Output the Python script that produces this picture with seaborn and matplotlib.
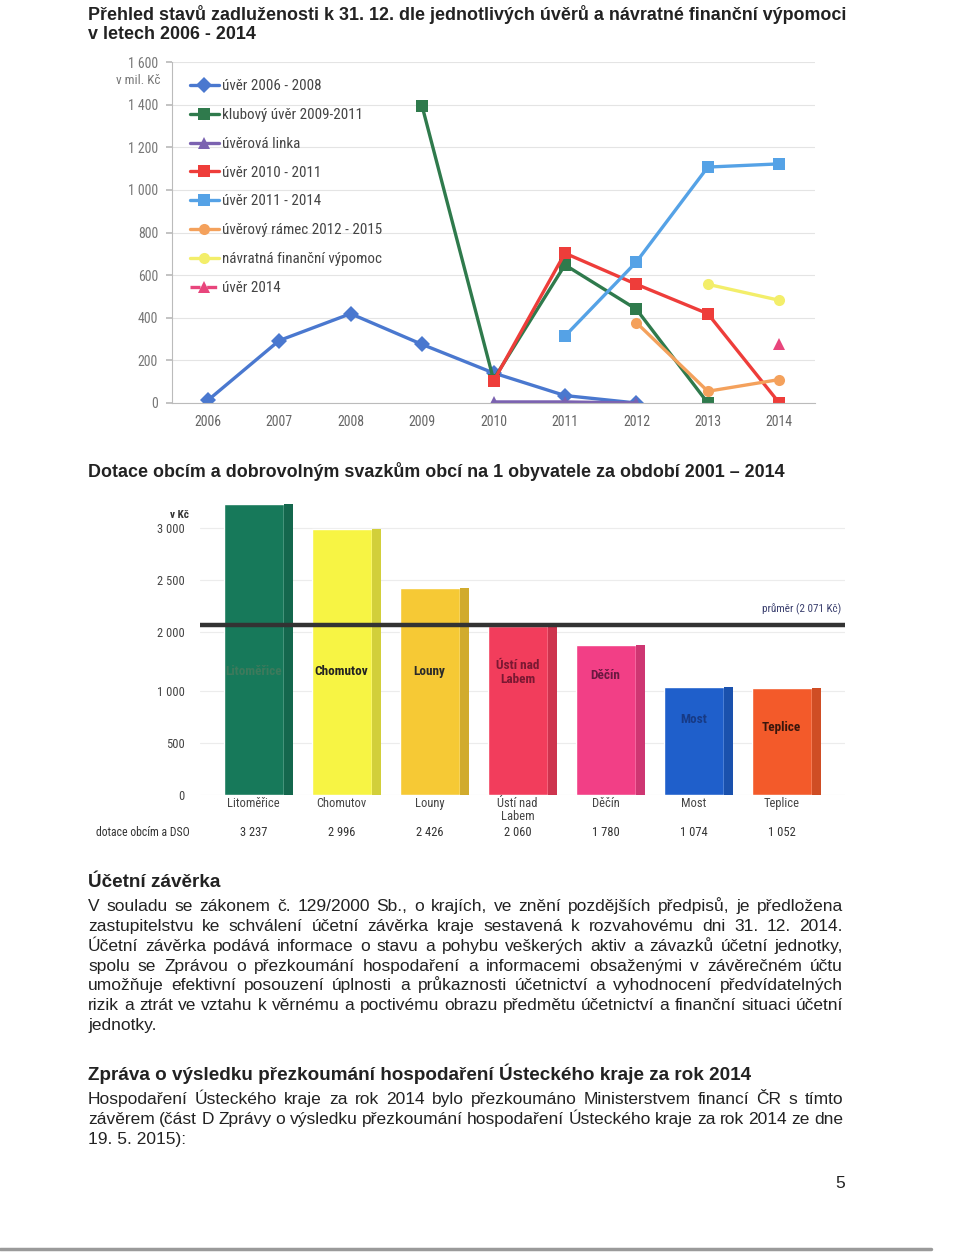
import os
import numpy as np
import pandas as pd
import matplotlib
matplotlib.use("Agg")
import matplotlib.pyplot as plt
import seaborn as sns
from matplotlib import font_manager
from matplotlib.ticker import FuncFormatter, FixedLocator
from matplotlib.patches import Rectangle
from matplotlib.lines import Line2D
from matplotlib.transforms import blended_transform_factory

# --- data: graf zadluzenosti (mil. Kc) ---
years = [2006, 2007, 2008, 2009, 2010, 2011, 2012, 2013, 2014]
uver_2006_2008 = [12, 293, 419, 275, 141, 35, 0, None, None]
klubovy_uver = [None, None, None, 1394, 110, 648, 440, 0, None]
uverova_linka = [None, None, None, None, 5, 5, 0, None, None]
uver_2010_2011 = [None, None, None, None, 102, 703, 557, 419, 0]
uver_2011_2014 = [None, None, None, None, None, 314, 662, 1107, 1122]
uverovy_ramec = [None, None, None, None, None, None, 377, 55, 110]
navratna_vypomoc = [None, None, None, None, None, None, None, 557, 482]
uver_2014 = [None, None, None, None, None, None, None, None, 275]
series_names = ["úvěr 2006 - 2008", "klubový úvěr 2009-2011", "úvěrová linka",
                "úvěr 2010 - 2011", "úvěr 2011 - 2014", "úvěrový rámec 2012 - 2015",
                "návratná finanční výpomoc", "úvěr 2014"]
line_colors = ["#4a78cf", "#2f7a4c", "#7b62b0", "#ee3d3a", "#55a2e6",
               "#f4a15c", "#f3ee6a", "#e8457c"]
line_markers = ["D", "s", "^", "s", "s", "o", "o", "^"]

# --- data: dotace na obyvatele (Kc) ---
okresy = ["Litoměřice", "Chomutov", "Louny", "Ústí nad\nLabem", "Děčín", "Most", "Teplice"]
dotace = [3237, 2996, 2426, 2060, 1780, 1074, 1052]
prumer = 2071
bar_colors = ["#17795a", "#f7f444", "#f6c935", "#f23d5c", "#f23f86", "#1f5fcb", "#f35a2a"]

# --- texts ---
title1 = ("Přehled stavů zadluženosti k 31. 12. dle jednotlivých úvěrů a návratné finanční výpomoci\n"
          "v letech 2006 - 2014")
title2 = "Dotace obcím a dobrovolným svazkům obcí na 1 obyvatele za období 2001 – 2014"
head1 = "Účetní závěrka"
para1 = ["V souladu se zákonem č. 129/2000 Sb., o krajích, ve znění pozdějších předpisů, je předložena",
         "zastupitelstvu ke schválení účetní závěrka kraje sestavená k rozvahovému dni 31. 12. 2014.",
         "Účetní závěrka podává informace o stavu a pohybu veškerých aktiv a závazků účetní jednotky,",
         "spolu se Zprávou o přezkoumání hospodaření a informacemi obsaženými v závěrečném účtu",
         "umožňuje efektivní posouzení úplnosti a průkaznosti účetnictví a vyhodnocení předvídatelných",
         "rizik a ztrát ve vztahu k věrnému a poctivému obrazu předmětu účetnictví a finanční situaci účetní",
         "jednotky."]
head2 = "Zpráva o výsledku přezkoumání hospodaření Ústeckého kraje za rok 2014"
para2 = ["Hospodaření Ústeckého kraje za rok 2014 bylo přezkoumáno Ministerstvem financí ČR s tímto",
         "závěrem (část D Zprávy o výsledku přezkoumání hospodaření Ústeckého kraje za rok 2014 ze dne",
         "19. 5. 2015):"]


def has_font(name):
    try:
        font_manager.findfont(font_manager.FontProperties(family=name), fallback_to_default=False)
        return True
    except ValueError:
        return False


def narrow_font():
    # chart labels in the scan are a narrow face
    for name in ["Liberation Sans Narrow", "Arial Narrow", "Roboto Condensed", "Open Sans Condensed"]:
        if has_font(name):
            return name, "normal"
    for name in ["Noto Sans", "DejaVu Sans"]:
        f = font_manager.findfont(font_manager.FontProperties(family=name, stretch="condensed"))
        if "ondensed" in os.path.basename(f):
            return name, "condensed"
    return "Liberation Sans", "normal"


NARROW, STRETCH = narrow_font()
WIDE = "Liberation Sans"

sns.set_theme(style="white")
plt.rcParams["font.family"] = [NARROW, "DejaVu Sans"]
plt.rcParams["font.stretch"] = STRETCH

W, H = 960, 1255
fig = plt.figure(figsize=(W / 100, H / 100), dpi=100)
renderer = fig.canvas.get_renderer()


def fx(px):
    return px / W


def fy(py):
    return 1 - py / H


def text_width(s, size, weight="normal", family=WIDE):
    t = fig.text(0, 0, s, fontsize=size, fontweight=weight, family=family, fontstretch="normal")
    w = t.get_window_extent(renderer).width
    t.remove()
    return w


def fit_size(s, target, weight="normal", family=WIDE):
    return 10 * target / text_width(s, 10, weight, family)


def base(center_px, size):
    # baseline of a line whose visual centre is at center_px
    return fy(center_px + 0.36 * size * 100 / 72)


thou = FuncFormatter(lambda v, p: f"{int(v):,}".replace(",", " "))
wide_kw = dict(family=WIDE, fontstretch="normal", color="#222")

# ---------------- titles ----------------
tsize = fit_size(title1.split("\n")[0], 755, "bold")
fig.text(fx(88), fy(24), title1, fontsize=tsize, fontweight="bold", va="center",
         linespacing=1.2, **wide_kw)
fig.text(fx(88), fy(472), title2, fontsize=tsize, fontweight="bold", va="center", **wide_kw)

# ---------------- line chart ----------------
ax1 = fig.add_axes([fx(172), fy(403), fx(815 - 172), (403 - 62) / H])
df = pd.DataFrame({"rok": years})
for name, vals in zip(series_names, [uver_2006_2008, klubovy_uver, uverova_linka, uver_2010_2011,
                                     uver_2011_2014, uverovy_ramec, navratna_vypomoc, uver_2014]):
    df[name] = pd.Series(vals, dtype="float")
df = df.melt(id_vars="rok", var_name="úvěr", value_name="mil").dropna()

dashes = {n: "" for n in series_names}
dashes["úvěr 2014"] = (3, 2)
sns.lineplot(data=df, x="rok", y="mil", hue="úvěr", style="úvěr",
             hue_order=series_names, style_order=series_names,
             palette=line_colors, markers=dict(zip(series_names, line_markers)),
             dashes=dashes, linewidth=2.4, markersize=8, markeredgewidth=0,
             errorbar=None, ax=ax1)
ax1.set_xlim(2005.5, 2014.5)
ax1.set_ylim(0, 1600)
ax1.set_xticks(years)
ax1.set_yticks(np.arange(0, 1601, 200))
ax1.yaxis.set_major_formatter(thou)
ax1.set_xlabel("")
ax1.set_ylabel("")
ax1.grid(axis="y", color="#e4e4e4", lw=0.8)
for s in ["top", "right"]:
    ax1.spines[s].set_visible(False)
for s in ["left", "bottom"]:
    ax1.spines[s].set_color("#bbbbbb")
    ax1.spines[s].set_linewidth(0.8)
ax1.tick_params(axis="y", left=True, length=4, color="#bbbbbb", labelsize=10, labelcolor="#777", pad=6)
ax1.tick_params(axis="x", bottom=False, labelsize=10, labelcolor="#666", pad=3)
sns.move_legend(ax1, "upper left", bbox_to_anchor=(0.028, 0.95), frameon=False, title=None,
                fontsize=10.8, labelspacing=0.99, handlelength=1.9, handletextpad=0.2,
                borderaxespad=0, borderpad=0)
for t in ax1.get_legend().get_texts():
    t.set_color("#444")
fig.text(fx(160), fy(80), "v mil. Kč", fontsize=9.5, color="#777", ha="right", va="center")

# ---------------- bar chart ----------------
seg_v = [0, 1000, 2000, 4000]
seg_p = [0, 1000, 1567, 3567]


def forward(v):
    return np.interp(v, seg_v, seg_p)


def inverse(p):
    return np.interp(p, seg_p, seg_v)


ax2 = fig.add_axes([fx(200), fy(795), fx(845 - 200), (795 - 497) / H])
ax2.set_yscale("function", functions=(forward, inverse))
sns.barplot(x=okresy, y=dotace, hue=okresy, palette=bar_colors, legend=False,
            width=0.68, saturation=1, ax=ax2)
# side faces for the 3D look
for p, c in zip(list(ax2.patches), bar_colors):
    side = np.array(matplotlib.colors.to_rgb(c)) * 0.85
    ax2.add_patch(Rectangle((p.get_x() + p.get_width(), 0), p.get_width() * 0.15,
                            p.get_height(), facecolor=side, edgecolor="none"))
ax2.set_xlim(-0.61, 6.72)
ax2.set_ylim(0, 3300)
ax2.yaxis.set_major_locator(FixedLocator([0, 500, 1000, 2000, 2500, 3000]))
ax2.yaxis.set_major_formatter(thou)
ax2.yaxis.set_minor_locator(FixedLocator([]))
ax2.grid(axis="y", color="#ececec", lw=0.8)
ax2.set_axisbelow(True)
sns.despine(ax=ax2, left=True, bottom=True)
ax2.tick_params(axis="y", labelsize=9, labelcolor="#444", pad=5, left=False)
ax2.tick_params(axis="x", bottom=False, labelbottom=False)
ax2.set_xlabel("")
ax2.axhline(prumer, color="#333", lw=3.2, zorder=5)
ax2.text(6.68, prumer + 90, f"průměr ({prumer:,} Kč)".replace(",", " "), fontsize=8,
         color="#3a3f6e", ha="right", va="bottom")
fig.text(fx(180), fy(515), "v Kč", fontsize=8, fontweight="bold", color="#333", ha="center", va="center")

inner_y = [1330, 1330, 1340, 1320, 1260, 730, 650]
inner_c = ["#3d7a5c", "#222", "#2a2a2a", "#7a1832", "#6a1840", "#173a85", "#3a160c"]
for i, (name, y, c) in enumerate(zip(okresy, inner_y, inner_c)):
    ax2.text(i, y, name, ha="center", va="center", fontsize=9.5, fontweight="bold",
             color=c, linespacing=1.1, zorder=6)

# category names and the value row under the bars
row = blended_transform_factory(ax2.transData, fig.transFigure)
for i, (name, v) in enumerate(zip(okresy, dotace)):
    ax2.text(i, fy(797), name, transform=row, ha="center", va="top", fontsize=9,
             color="#444", linespacing=0.95)
    ax2.text(i, fy(832), f"{v:,}".replace(",", " "), transform=row, ha="center", va="center",
             fontsize=9, color="#333")
fig.text(fx(96), fy(832), "dotace obcím a DSO", fontsize=8.5, color="#333", va="center")

# ---------------- body text ----------------
X0, X1 = 88, 843
bsize = fit_size(para1[5], X1 - X0 - 4)


def justified(lines, top, step, size):
    for k, line in enumerate(lines):
        y = base(top + k * step, size)
        words = line.split(" ")
        if k == len(lines) - 1:
            fig.text(fx(X0), y, line, fontsize=size, va="baseline", **wide_kw)
            continue
        widths = [text_width(w, size) for w in words]
        gap = (X1 - X0 - sum(widths)) / (len(words) - 1)
        x = X0
        for w, ww in zip(words, widths):
            fig.text(fx(x), y, w, fontsize=size, va="baseline", **wide_kw)
            x += ww + gap


hsize = fit_size(head2, 662, "bold")
fig.text(fx(X0), base(880, hsize), head1, fontsize=hsize, fontweight="bold", va="baseline", **wide_kw)
justified(para1, 905, 19.8, bsize)
fig.text(fx(X0), base(1073, hsize), head2, fontsize=hsize, fontweight="bold", va="baseline", **wide_kw)
justified(para2, 1098, 19.8, bsize)
fig.text(fx(840), base(1182, bsize), "5", fontsize=bsize, ha="center", va="baseline", **wide_kw)
fig.add_artist(Line2D([0, 0.97], [fy(1249), fy(1249)], color="#9a9a9a", lw=2.5))

fig.savefig("out.png", dpi=100)
